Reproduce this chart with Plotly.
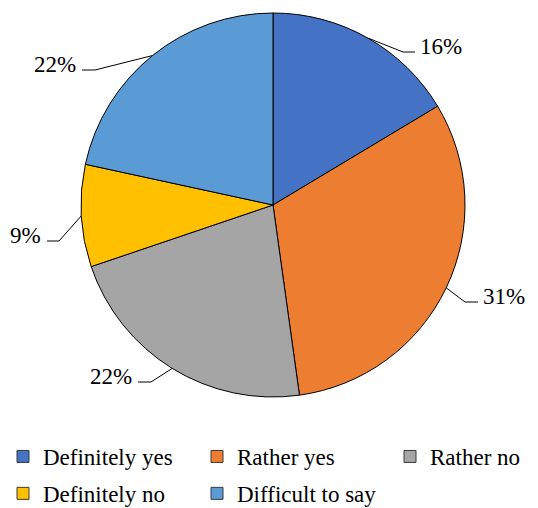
import math
import plotly.graph_objects as go

categories = ["Definitely yes", "Rather yes", "Rather no", "Definitely no", "Difficult to say"]
values = [16.4, 31.4, 22.0, 8.6, 21.6]
colors = ["#4472C4", "#ED7D31", "#A5A5A5", "#FFC000", "#5B9BD5"]

W, H = 538, 508
FONT = "Times New Roman, Liberation Serif, serif"
cx, cy, R = 273, 205, 192  # pie centre / radius in pixels

# leader-line elbow and end (pixels) and label side
leaders = [
    (403, 52, 415, "left"),
    (465, 302, 478, "left"),
    (151, 382, 138, "right"),
    (59, 241, 47, "right"),
    (95, 70, 82, "right"),
]
# legend column of each category, and left edge (px) of each column legend
legend_cols = [0, 1, 2, 0, 1]
legend_left = [3, 197, 390]
legend_top = 435


def px(x):
    return x / W


def py(y):
    return 1 - y / H


fig = go.Figure()
fig.add_trace(go.Pie(
    labels=categories,
    values=values,
    sort=False,
    direction="clockwise",
    rotation=0,
    marker=dict(colors=colors, line=dict(color="#000000", width=1)),
    textinfo="none",
    hoverinfo="label+percent",
    showlegend=False,
    domain=dict(x=[px(cx - R - 10), px(cx + R + 10)], y=[py(cy + R), py(cy - R)]),
))

legend_names = ["legend", "legend2", "legend3"]
for name, col, colr in zip(categories, legend_cols, colors):
    fig.add_trace(go.Scatter(
        x=[None], y=[None], mode="markers", name=name,
        marker=dict(symbol="square", size=12, color=colr, line=dict(color="#3a3a3a", width=1)),
        legend=legend_names[col], legendgroup=name, hoverinfo="skip",
    ))

total = sum(values)
cum = 0.0
shapes = []
annotations = []
for v, (ex, ey, tx, side) in zip(values, leaders):
    mid = 2 * math.pi * (cum + v / 2) / total
    cum += v
    sx = cx + R * math.sin(mid)
    sy = cy - R * math.cos(mid)
    shapes.append(dict(
        type="path", xref="paper", yref="paper",
        path=f"M {px(sx)} {py(sy)} L {px(ex)} {py(ey)} L {px(tx)} {py(ey)}",
        line=dict(color="#000000", width=1),
    ))
    pct = round(100 * v / total)
    annotations.append(dict(
        x=px(tx + 3) if side == "left" else px(tx - 4), y=py(ey - 6),
        xref="paper", yref="paper", text=f"{pct}%", showarrow=False,
        xanchor=side, yanchor="middle",
        font=dict(family=FONT, size=23, color="#000000"),
    ))

legend_style = dict(
    orientation="v", xanchor="left", yanchor="top", y=py(legend_top),
    font=dict(family=FONT, size=23, color="#000000"),
    tracegroupgap=4, bgcolor="rgba(0,0,0,0)",
)
fig.update_layout(
    width=W, height=H,
    margin=dict(l=0, r=0, t=0, b=0, autoexpand=False),
    paper_bgcolor="white",
    plot_bgcolor="white",
    font=dict(family=FONT),
    xaxis=dict(visible=False),
    yaxis=dict(visible=False),
    shapes=shapes,
    annotations=annotations,
    showlegend=True,
    legend=dict(x=px(legend_left[0]), **legend_style),
    legend2=dict(x=px(legend_left[1]), **legend_style),
    legend3=dict(x=px(legend_left[2]), **legend_style),
)

fig.write_html("out.html")
